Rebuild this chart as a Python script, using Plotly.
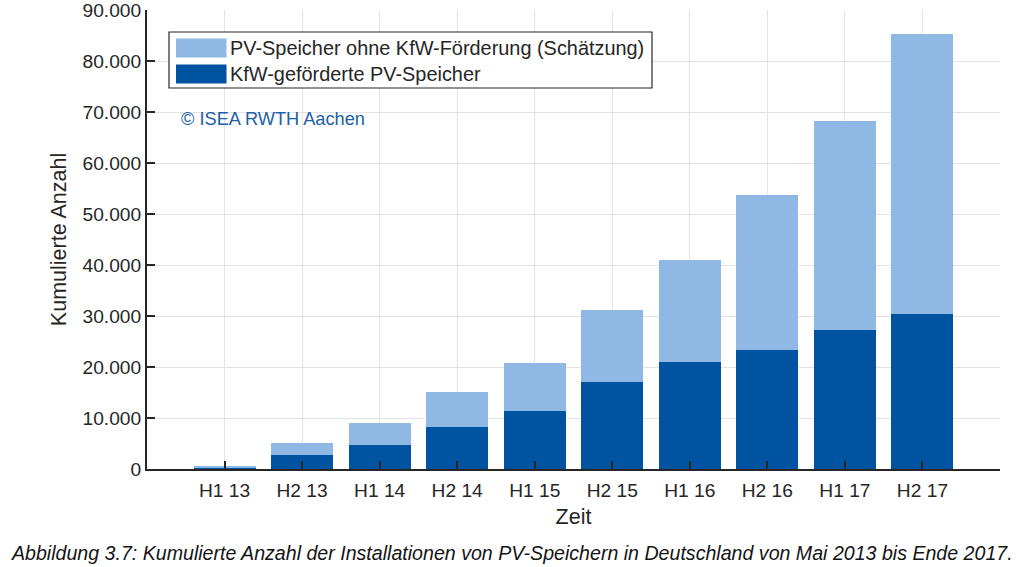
import plotly.graph_objects as go

categories = ["H1 13", "H2 13", "H1 14", "H2 14", "H1 15", "H2 15",
              "H1 16", "H2 16", "H1 17", "H2 17"]
kfw_values = [100, 2690, 4700, 8240, 11370, 17060, 21000, 23300, 27300, 30400]
total_values = [650, 5040, 8960, 15100, 20800, 31200, 41000, 53700, 68200, 85350]
ohne_values = [t - k for t, k in zip(total_values, kfw_values)]

name_ohne = "PV-Speicher ohne KfW-Förderung (Schätzung)"
name_kfw = "KfW-geförderte PV-Speicher"
copyright_text = "© ISEA RWTH Aachen"
caption = ("Abbildung 3.7: Kumulierte Anzahl der Installationen von PV-Speichern "
           "in Deutschland von Mai 2013 bis Ende 2017.")

LIGHT = "#8FB9E4"
DARK = "#0053A0"
FONT = "Liberation Sans, Arial, sans-serif"
TXT = "#262626"

x_pos = list(range(len(categories)))

fig = go.Figure()
fig.add_trace(go.Bar(x=x_pos, y=kfw_values, name=name_kfw, width=0.8,
                     marker=dict(color=DARK, line=dict(width=0))))
fig.add_trace(go.Bar(x=x_pos, y=ohne_values, name=name_ohne, width=0.8,
                     marker=dict(color=LIGHT, line=dict(width=0))))

W, H = 1024, 567
ml, mr, mt, mb = 147, 24, 10, 98
pw, ph = W - ml - mr, H - mt - mb


def px(x):
    return (x - ml) / pw


def py(y):
    return 1 - (y - mt) / ph


fig.update_layout(
    width=W, height=H,
    barmode="stack",
    separators=",.",
    plot_bgcolor="white", paper_bgcolor="white",
    margin=dict(l=ml, r=mr, t=mt, b=mb, autoexpand=False),
    showlegend=False,
    font=dict(family=FONT, size=19, color=TXT),
    xaxis=dict(
        range=[-1, 10],
        tickmode="array",
        tickvals=list(range(len(categories) + 1)),
        ticktext=categories + [""],
        showgrid=True, gridcolor="#E3E3E3", gridwidth=1,
        showline=True, linecolor=TXT, linewidth=2,
        ticks="inside", ticklen=8, tickwidth=2, tickcolor=TXT,
        tickfont=dict(size=19.2, color=TXT),
        ticklabelstandoff=3,
        automargin=False,
        title=dict(text="Zeit", font=dict(size=21.5, color=TXT), standoff=9),
        zeroline=False,
    ),
    yaxis=dict(
        range=[0, 90000],
        dtick=10000,
        tickformat=",d",
        showgrid=True, gridcolor="#E3E3E3", gridwidth=1,
        showline=True, linecolor=TXT, linewidth=2,
        ticks="inside", ticklen=8, tickwidth=2, tickcolor=TXT,
        tickfont=dict(size=19.2, color=TXT),
        ticklabeloverflow="allow",
        automargin=False,
        title=dict(text="Kumulierte Anzahl", font=dict(size=21.5, color=TXT), standoff=10),
        zeroline=False,
    ),
)

# manual legend (wide swatches like the original)
shapes = [
    dict(type="rect", xref="paper", yref="paper",
         x0=px(169), x1=px(652), y0=py(88), y1=py(32),
         line=dict(color=TXT, width=1.2), fillcolor="white", layer="above"),
    dict(type="rect", xref="paper", yref="paper",
         x0=px(176), x1=px(226.5), y0=py(57.5), y1=py(38.5),
         line=dict(width=0), fillcolor=LIGHT, layer="above"),
    dict(type="rect", xref="paper", yref="paper",
         x0=px(176), x1=px(226.5), y0=py(83.5), y1=py(64.5),
         line=dict(width=0), fillcolor=DARK, layer="above"),
]
fig.update_layout(shapes=shapes)

annotations = [
    dict(text=name_ohne, xref="paper", yref="paper", x=px(228), y=py(48),
         xanchor="left", yanchor="middle", showarrow=False,
         font=dict(size=19.9, color=TXT, family=FONT)),
    dict(text=name_kfw, xref="paper", yref="paper", x=px(228), y=py(74),
         xanchor="left", yanchor="middle", showarrow=False,
         font=dict(size=19.9, color=TXT, family=FONT)),
    dict(text=copyright_text, xref="paper", yref="paper", x=px(179), y=py(119),
         xanchor="left", yanchor="middle", showarrow=False,
         font=dict(size=18.2, color="#2060A8", family=FONT)),
    dict(text="<i>" + caption + "</i>", xref="paper", yref="paper",
         x=px(512), y=py(553), xanchor="center", yanchor="middle", showarrow=False,
         font=dict(size=19.6, color="#141414",
                   family="Liberation Sans Narrow, Arial Narrow, Liberation Sans, Arial")),
]
fig.update_layout(annotations=annotations)

fig.write_html("out.html", config={"displayModeBar": False},
               post_script="document.body.style.margin='0';")
